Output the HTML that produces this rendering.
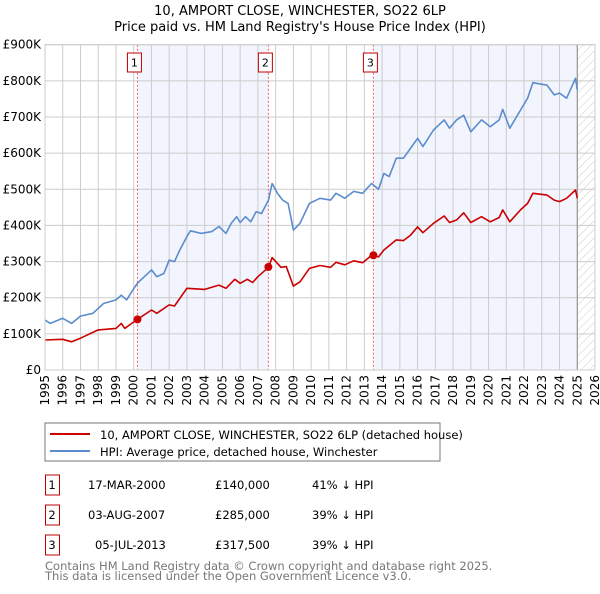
<!DOCTYPE html>
<html><head><meta charset="utf-8"><style>
body{margin:0;background:#fff;font-family:"DejaVu Sans","Liberation Sans",sans-serif;}
svg text{font-family:"DejaVu Sans","Liberation Sans",sans-serif;}
</style></head><body>
<svg id="chart" width="600" height="590" viewBox="0 0 600 590" xmlns="http://www.w3.org/2000/svg">
<defs><pattern id="hatch" width="6" height="6" patternUnits="userSpaceOnUse" patternTransform="rotate(45)"><line x1="0" y1="0" x2="0" y2="6" stroke="#ccc" stroke-width="1"/></pattern></defs>
<text x="300" y="15" text-anchor="middle" font-size="13" fill="#000">10, AMPORT CLOSE, WINCHESTER, SO22 6LP</text>
<text x="300" y="31" text-anchor="middle" font-size="13" fill="#000">Price paid vs. HM Land Registry's House Price Index (HPI)</text>
<g id="plot"></g>
<rect x="45" y="423" width="395" height="38" fill="#fff" stroke="#777"/>
<line x1="50" y1="434" x2="90" y2="434" stroke="#cc0000" stroke-width="2"/>
<text x="100" y="439" font-size="11.5">10, AMPORT CLOSE, WINCHESTER, SO22 6LP (detached house)</text>
<line x1="50" y1="451" x2="90" y2="451" stroke="#5b8ccc" stroke-width="2"/>
<text x="100" y="456" font-size="11.5">HPI: Average price, detached house, Winchester</text>
<g id="table" font-size="11.5"></g>
<text x="45" y="570" font-size="11.5" fill="#777">Contains HM Land Registry data © Crown copyright and database right 2025.</text>
<text x="45" y="580" font-size="11.5" fill="#777">This data is licensed under the Open Government Licence v3.0.</text>
</svg>
<script>
const hpiYears=[1995,1995.3,1996,1996.5,1997,1997.7,1998.3,1999,1999.3,1999.6,1999.9,2000.2,2001,2001.3,2001.7,2002,2002.3,2002.6,2003,2003.2,2003.8,2004.4,2004.8,2005.2,2005.5,2005.8,2006,2006.3,2006.6,2006.9,2007.2,2007.6,2007.8,2008.1,2008.4,2008.7,2009,2009.37,2009.9,2010.5,2011.1,2011.4,2011.9,2012.4,2012.9,2013.4,2013.8,2014.1,2014.4,2014.8,2015.2,2015.6,2016.0,2016.3,2016.9,2017.5,2017.8,2018.2,2018.6,2019.0,2019.6,2020.1,2020.6,2020.8,2021.2,2021.8,2022.2,2022.5,2023.3,2023.7,2024.0,2024.4,2024.9,2025.0];
const hpiValues=[138,129,143,129,149,157,184,194,207,194,217,240,277,258,267,304,300,332,369,385,378,383,397,378,406,424,408,424,410,438,433,470,516,489,470,461,387,406,461,475,470,489,475,494,489,516,500,544,535,586,586,613,641,618,664,692,669,692,705,659,692,673,692,721,669,719,752,795,788,761,766,752,807,775];
const priceYears=[1995,1996,1996.5,1997,1998,1999,1999.3,1999.5,2000.2,2001,2001.3,2002,2002.3,2003,2004,2004.8,2005.2,2005.7,2006,2006.4,2006.7,2007,2007.6,2007.8,2008.3,2008.6,2009,2009.37,2009.9,2010.5,2011.1,2011.4,2011.9,2012.4,2012.9,2013.4,2013.8,2014.1,2014.8,2015.2,2015.6,2016.0,2016.3,2016.9,2017.5,2017.8,2018.2,2018.6,2019.0,2019.6,2020.1,2020.6,2020.8,2021.2,2021.8,2022.2,2022.5,2023.3,2023.7,2024.0,2024.4,2024.9,2025.0];
const priceValues=[83,85,78,88,111,115,129,115,140,166,157,180,177,226,223,235,226,251,240,251,242,258,284,311,284,286,232,244,281,289,284,298,291,302,297,317,313,332,360,358,373,396,380,406,426,408,415,435,408,424,410,422,443,410,443,461,489,484,470,466,475,498,475];
const saleYears=[2000.21,2007.59,2013.51];
const salePrices=[140,285,317.5];
const saleLabels=["1","2","3"];
const saleDates=["17-MAR-2000","03-AUG-2007","05-JUL-2013"];
const salePriceText=["£140,000","£285,000","£317,500"];
const saleDiff=["41% ↓ HPI","39% ↓ HPI","39% ↓ HPI"];
const yTicks=[0,100,200,300,400,500,600,700,800,900];
const yTickLabels=["£0","£100K","£200K","£300K","£400K","£500K","£600K","£700K","£800K","£900K"];
const xTicks=[1995,1996,1997,1998,1999,2000,2001,2002,2003,2004,2005,2006,2007,2008,2009,2010,2011,2012,2013,2014,2015,2016,2017,2018,2019,2020,2021,2022,2023,2024,2025,2026];

const L=45,R=595,T=44.7,B=370,X0=1995,X1=2026,YMAX=900;
const xs=v=>L+(v-X0)/(X1-X0)*(R-L);
const ys=v=>B-v/YMAX*(B-T);
const NS="http://www.w3.org/2000/svg";
const plot=document.getElementById('plot');
function mk(tag,attrs,parent){const e=document.createElementNS(NS,tag);for(const k in attrs)e.setAttribute(k,attrs[k]);(parent||plot).appendChild(e);return e;}

// shaded ranges between sales and after last sale
let s1=mk('rect',{x:xs(saleYears[0]),y:T,width:xs(saleYears[1])-xs(saleYears[0]),height:B-T,fill:'#f2f5fd'});


const lastData=hpiYears[hpiYears.length-1];
let s2=mk('rect',{x:xs(saleYears[2]),y:T,width:xs(lastData)-xs(saleYears[2]),height:B-T,fill:'#f2f5fd'});


let hz=mk('rect',{x:xs(lastData),y:T,width:R-xs(lastData),height:B-T,fill:'url(#hatch)'});



// grid
yTicks.forEach((v,i)=>{
  let g=mk('line',{x1:L,x2:R,y1:ys(v),y2:ys(v),stroke:'#ccc','stroke-width':1});
  
  
  let t=mk('text',{x:L-4,y:ys(v)+4,'text-anchor':'end','font-size':12});
  t.textContent=yTickLabels[i];
  
  
});
xTicks.forEach(v=>{
  let g=mk('line',{x1:xs(v),x2:xs(v),y1:T,y2:B,stroke:'#ccc','stroke-width':1});
  
  
  let t=mk('text',{x:0,y:0,'text-anchor':'end','font-size':12,transform:`translate(${xs(v)+4},${B+5}) rotate(-90)`});
  t.textContent=v;
  
  
});
let ln=mk('line',{x1:xs(lastData),x2:xs(lastData),y1:T,y2:B,stroke:'#888','stroke-width':1});



// sale vertical dashed lines + labels
saleYears.forEach((v,i)=>{
  let d=mk('line',{x1:xs(v),x2:xs(v),y1:T,y2:B,stroke:'#f06060','stroke-width':1,'stroke-dasharray':'2,2'});
  
  
  let r=mk('rect',{x:xs(v)-10,y:53,width:14,height:19,fill:'#fff',stroke:'#c00000'});
  
  
  let t=mk('text',{x:xs(v)-3,y:66.5,'text-anchor':'middle','font-size':11});
  t.textContent=saleLabels[i];
  
  
});

function path(xv,yv){return xv.map((x,i)=>(i?'L':'M')+xs(x).toFixed(1)+','+ys(yv[i]).toFixed(1)).join('');}
let hp=mk('path',{d:path(hpiYears,hpiValues),fill:'none',stroke:'#5b8ccc','stroke-width':1.6,'stroke-linejoin':'round'});


let pp=mk('path',{d:path(priceYears,priceValues),fill:'none',stroke:'#cc0000','stroke-width':1.6,'stroke-linejoin':'round'});


saleYears.forEach((v,i)=>{
  let c=mk('circle',{cx:xs(v),cy:ys(salePrices[i]),r:4,fill:'#cc0000'});
  
  
});
let ax=mk('rect',{x:L,y:T,width:R-L,height:B-T,fill:'none',stroke:'#ccc'});



// table
const tb=document.getElementById('table');
saleYears.forEach((v,i)=>{
  const y=475+i*30;
  let r=mk('rect',{x:45.5,y:y,width:14,height:20,fill:'#fff',stroke:'#c00000'},tb);
  
  
  const cells=[[52,saleLabels[i],'middle','table-row-number'],[88+(i==2?7:0),saleDates[i],'start','table-row-date'],[215,salePriceText[i],'start','table-row-price'],[312,saleDiff[i],'start','table-row-hpi-diff']];
  cells.forEach(c=>{
    let t=mk('text',{x:c[0],y:y+14,'text-anchor':c[2],'font-size':11.5},tb);
    t.textContent=c[1];
    
    
  });
});
</script>
</body></html>
